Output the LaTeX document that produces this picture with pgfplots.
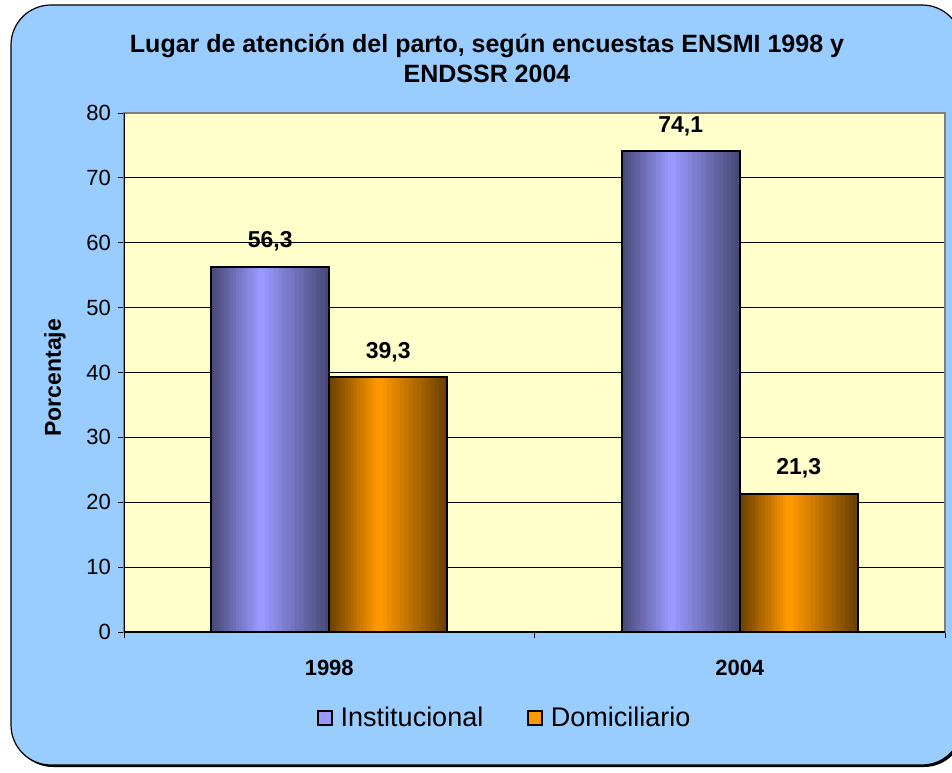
\documentclass[border=0pt]{standalone}
\usepackage{fontspec}
\setmainfont{Liberation Sans}
\usepackage{pgfplots}
\usepackage{pgfplotstable}
\pgfplotsset{compat=1.18}
\definecolor{bgblue}{HTML}{99CCFF}
\definecolor{plotyel}{HTML}{FFFFCC}
\definecolor{instmid}{HTML}{9999FF}
\definecolor{instdark}{HTML}{4A4A78}
\definecolor{domimid}{HTML}{FF9900}
\definecolor{domidark}{HTML}{6E4200}
\pgfplotstableread{
x inst domi
0 56.3 39.3
1 74.1 21.3
}\datatable
% layered horizontal gradient: #1 bright colour, #2 dark colour, #3 bar shift, #4 column
\newcommand{\gradbars}[4]{%
\pgfplotsinvokeforeach{0,...,15}{%
  \pgfmathsetmacro\lw{0.2875*(1-##1/16)}%
  \pgfmathsetmacro\ls{#3-0.023*##1/16}%
  \pgfmathtruncatemacro\lp{100*##1/15}%
  \edef\tmp{\noexpand\addplot[ybar, forget plot, draw=none, fill=#1!\lp!#2, bar width=\lw, bar shift=\ls] table[x=x, y=#4] {\noexpand\datatable};}%
  \tmp
}}
\begin{document}
\begin{tikzpicture}
\useasboundingbox (0,0) rectangle (476pt,386pt);
\clip (0,0) rectangle (476pt,386pt);
\fill[black, rounded corners=20pt] (6.5pt,2.5pt) rectangle (482pt,382.5pt);
\draw[black, line width=0.6pt, fill=bgblue, rounded corners=20pt] (5.5pt,3.5pt) rectangle (481pt,383.5pt);
\node[font=\fontsize{12.5}{15}\selectfont\bfseries, align=center] at (243.5pt,357pt)
  {Lugar de atención del parto, según encuestas ENSMI 1998 y\\ENDSSR 2004};
\begin{axis}[
  at={(62pt,70pt)}, anchor=south west,
  scale only axis, width=410.5pt, height=259.5pt,
  /pgf/number format/assume math mode=true,
  axis background/.style={fill=plotyel},
  axis line style={draw=gray, line width=0.8pt},
  xmin=-0.5, xmax=1.5, ymin=0, ymax=80,
  ytick={0,10,...,80},
  ymajorgrids, grid style={black, line width=0.5pt},
  tick align=outside, tick pos=left,
  major tick length=3pt,
  tick style={black, line width=0.5pt},
  xtick={-0.5,0.5,1.5}, xticklabels={},
  extra x ticks={0,1}, extra x tick labels={1998,2004},
  extra x tick style={major tick length=0pt, xticklabel style={font=\fontsize{11}{13}\selectfont\bfseries, yshift=-10.5pt}},
  yticklabel style={font=\fontsize{11}{13}\selectfont},
  ylabel={Porcentaje},
  every axis y label/.style={at={(axis description cs:-0.084,0.49)}, rotate=90, anchor=center, font=\fontsize{11.5}{13}\selectfont\bfseries},
  every node near coord/.append style={font=\fontsize{11.5}{13}\selectfont\bfseries, yshift=4pt},
  legend columns=2,
  legend style={at={(axis description cs:0.465,-0.166)}, anchor=center, draw=none, fill=none,
    font=\fontsize{13.5}{16}\selectfont,
    /tikz/every odd column/.append style={column sep=2pt},
    /tikz/every even column/.append style={column sep=20pt}},
]
\gradbars{instmid}{instdark}{-0.14375}{inst}
\addplot[ybar, draw=black, line width=0.8pt, fill=none, bar width=0.2875, bar shift=-0.14375,
  nodes near coords={\pgfmathprintnumber[fixed,precision=1,fixed zerofill,use comma]{\pgfplotspointmeta}},
  every node near coord/.append style={xshift=-29.5pt},
  legend image code/.code={\draw[black, line width=0.8pt, fill=instmid] (0pt,-3.5pt) rectangle (7pt,3.5pt);}]
  table[x=x, y=inst] {\datatable};
\gradbars{domimid}{domidark}{0.14375}{domi}
\addplot[ybar, draw=black, line width=0.8pt, fill=none, bar width=0.2875, bar shift=0.14375,
  nodes near coords={\pgfmathprintnumber[fixed,precision=1,fixed zerofill,use comma]{\pgfplotspointmeta}},
  every node near coord/.append style={xshift=29.5pt},
  legend image code/.code={\draw[black, line width=0.8pt, fill=domimid] (0pt,-3.5pt) rectangle (7pt,3.5pt);}]
  table[x=x, y=domi] {\datatable};
\legend{Institucional, Domiciliario}
\draw[black, line width=0.6pt] (rel axis cs:0,0) -- (rel axis cs:0,1);
\draw[black, line width=0.6pt] (rel axis cs:0,0) -- (rel axis cs:1,0);
\end{axis}
\end{tikzpicture}
\end{document}
